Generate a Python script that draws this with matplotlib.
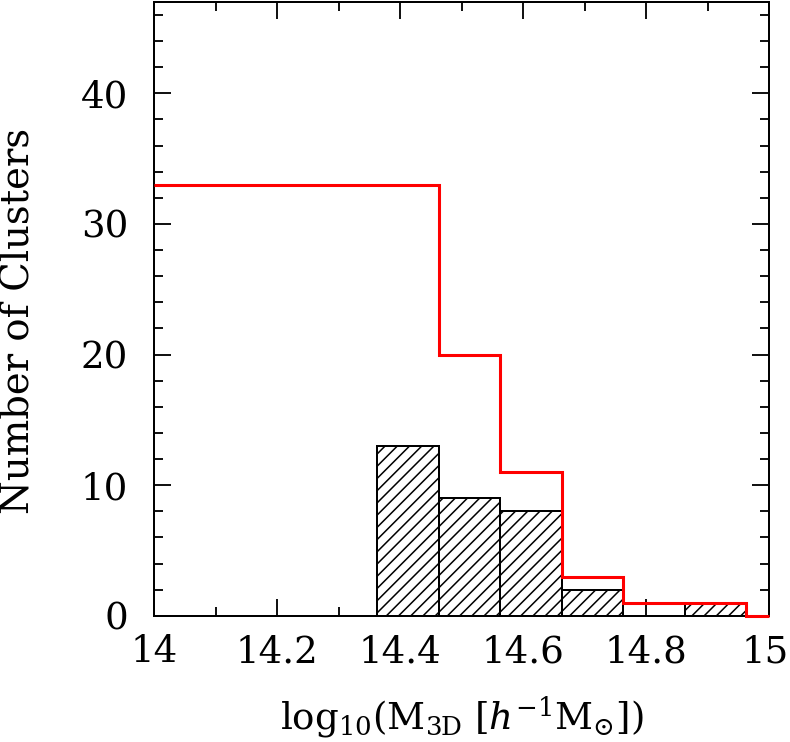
"""
Histograma de masas de cúmulos (M_3D) con la distribución acumulada
"""

import numpy as np
import matplotlib
matplotlib.use('Agg')
import matplotlib.pyplot as plt
import matplotlib.transforms as mtransforms
from matplotlib.ticker import MultipleLocator

# bordes izquierdos de los bins (ancho 0.1) y cuentas del histograma rayado
bin_left = [14.363, 14.463, 14.563, 14.663, 14.763, 14.863]
bin_width = 0.1
counts = [13, 9, 8, 2, 0, 1]

# línea roja: número de cúmulos por encima de cada bin
cum_edges = [14.0, 14.463, 14.563, 14.663, 14.763, 14.863, 14.963, 15.0]
cum_counts = [33, 20, 11, 3, 1, 1, 0]

xticks = [14.0, 14.2, 14.4, 14.6, 14.8, 15.0]
xticklabels = ['14', '14.2', '14.4', '14.6', '14.8', '15']
yticks = [0, 10, 20, 30, 40]

plt.rcParams['font.family'] = ['DejaVu Serif']
plt.rcParams['mathtext.fontset'] = 'dejavuserif'
plt.rcParams['hatch.linewidth'] = 1.0

DPI = 110
FS = 24.3
fig = plt.figure(figsize=(790 / DPI, 742 / DPI), dpi=DPI)
ax = fig.add_axes([0.195, 0.170, 0.7785, 0.8275])

# histograma rayado
ax.bar(bin_left, counts, width=bin_width, align='edge', facecolor='white',
       edgecolor='black', hatch='///', linewidth=1.3, zorder=2)

# acumulado en rojo
ax.stairs(cum_counts, cum_edges, baseline=None, color='red', linewidth=2.0,
          zorder=3, clip_on=False)

ax.set_xlim(14.0, 15.0)
ax.set_ylim(0, 47)
ax.set_xticks(xticks)
ax.set_xticklabels(xticklabels)
ax.set_yticks(yticks)
ax.xaxis.set_minor_locator(MultipleLocator(0.1))
ax.yaxis.set_minor_locator(MultipleLocator(2))

ax.tick_params(which='both', direction='in', top=True, right=True,
               labelsize=FS, width=1.2)
ax.tick_params(which='major', length=11)
ax.tick_params(which='minor', length=6)
ax.tick_params(axis='x', which='major', pad=12)
ax.tick_params(axis='y', which='major', pad=17)
for sp in ax.spines.values():
    sp.set_linewidth(1.3)

# el "15" queda pegado al borde: moverlo unos píxeles a la izquierda
last = ax.get_xticklabels()[-1]
last.set_transform(last.get_transform() +
                   mtransforms.ScaledTranslation(-4 / DPI, 0, fig.dpi_scale_trans))

ax.set_xlabel(r'log$_{10}$(M$_{\rm 3D}$ [$h^{-\mathit{1}}$M$_{\odot}$])',
              fontsize=FS, labelpad=16)
ax.set_ylabel('Number of Clusters', fontsize=FS + 1)
ax.yaxis.set_label_coords(-0.19, 0.48)

fig.savefig('out.png', dpi=DPI)
